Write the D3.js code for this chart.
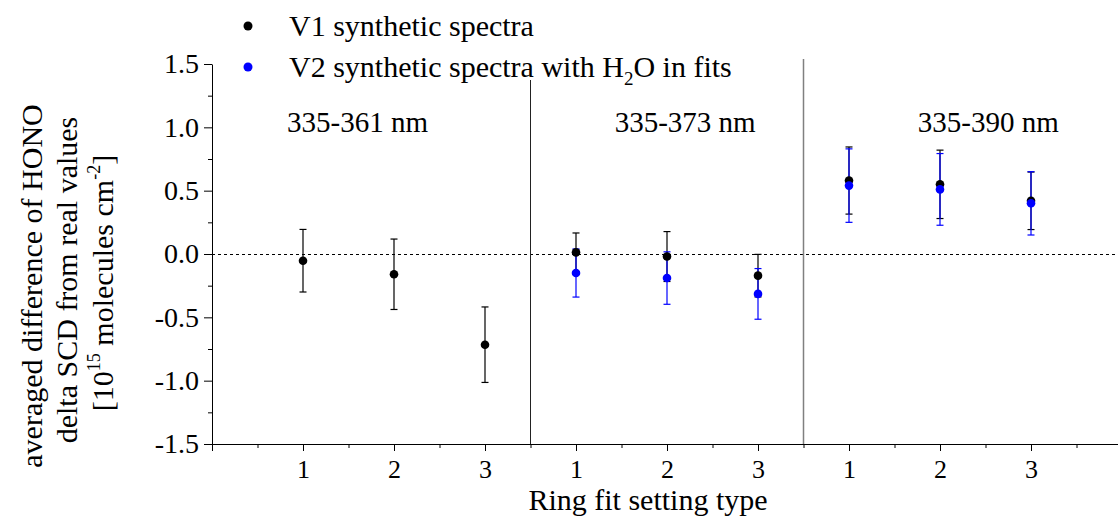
<!DOCTYPE html>
<html>
<head>
<meta charset="utf-8">
<script src="https://cdn.jsdelivr.net/npm/d3@7"></script>
<style>
  html, body { margin: 0; padding: 0; background: #fff; }
  svg { display: block; }
  svg text { font-family: "Liberation Serif", "Times New Roman", "DejaVu Serif", serif !important; fill: #000; }
</style>
</head>
<body>
<svg id="chart" width="1118" height="520"></svg>
<script>
// ---- data ----
const positions = [1, 2, 3, 4, 5, 6, 7, 8, 9];
const tickLabels = ["1", "2", "3", "1", "2", "3", "1", "2", "3"];
const v1Values = [-0.053, -0.16, -0.716, 0.013, -0.02, -0.171, 0.58, 0.55, 0.42];
const v1Errors = [0.247, 0.278, 0.298, 0.153, 0.197, 0.168, 0.265, 0.27, 0.227];
const v2Positions = [4, 5, 6, 7, 8, 9];
const v2Values = [-0.15, -0.19, -0.315, 0.54, 0.51, 0.40];
const v2Errors = [0.19, 0.207, 0.2, 0.29, 0.283, 0.25];
const regionNames = ["335-361 nm", "335-373 nm", "335-390 nm"];
const regionCenters = [1.6, 5.2, 8.53];
const dividers = [3.5, 6.5];
const yMajor = [-1.5, -1.0, -0.5, 0.0, 0.5, 1.0, 1.5];
const yMinor = [-1.25, -0.75, -0.25, 0.25, 0.75, 1.25];
const legendNames = ["V1 synthetic spectra", "V2 synthetic spectra with H2O in fits"];

const FONT = '"Liberation Serif", "Times New Roman", "DejaVu Serif", serif';
const svg = d3.select("#chart");
const x = d3.scaleLinear().domain([0, 10]).range([212, 1122]);
const y = d3.scaleLinear().domain([-1.5, 1.5]).range([444, 64]);
const BLACK = "#000000", BLUE = "#0000ff";

// zero dashed line
svg.append("line")
  .attr("x1", x(0)).attr("x2", 1118)
  .attr("y1", y(0) + 0.5).attr("y2", y(0) + 0.5)
  .attr("stroke", "#000").attr("stroke-width", 1)
  .attr("shape-rendering", "crispEdges")
  .attr("stroke-dasharray", "3,3");

// dividers
svg.selectAll("line.div").data(dividers).enter().append("line")
  .attr("class", "div")
  .attr("x1", d => x(d)).attr("x2", d => x(d))
  .attr("y1", y(1.54)).attr("y2", y(-1.5))
  .attr("stroke", (d, i) => i === 0 ? "#222" : "#808080")
  .attr("stroke-width", (d, i) => i === 0 ? 1 : 1.5);

// y axis
const fmt = d3.format(".1f");
const yAxis = svg.append("g").attr("transform", `translate(${x(0)},0)`)
  .call(d3.axisLeft(y).tickValues(yMajor).tickSize(8).tickSizeOuter(0).tickPadding(5)
    .tickFormat(d => fmt(d).replace("\u2212", "-")));
yAxis.attr("font-family", FONT);
yAxis.selectAll("text").attr("font-size", 28);
yAxis.selectAll("line, path").attr("stroke", "#000");
const yAxisMinor = svg.append("g").attr("transform", `translate(${x(0)},0)`)
  .call(d3.axisLeft(y).tickValues(yMinor).tickSize(4).tickSizeOuter(0).tickFormat(""));
yAxisMinor.select("path").remove();
yAxisMinor.selectAll("line").attr("stroke", "#000");

// x axis
const xMajor = d3.range(0, 10, 1);
const xMinor = d3.range(0.5, 10, 1);
const xAxis = svg.append("g").attr("transform", `translate(0,${y(-1.5)})`)
  .call(d3.axisBottom(x).tickValues(xMajor).tickSize(7).tickSizeOuter(0).tickPadding(9)
    .tickFormat(d => { const i = positions.indexOf(d); return i >= 0 ? tickLabels[i] : ""; }));
xAxis.attr("font-family", FONT);
xAxis.selectAll("text").attr("font-size", 26);
xAxis.selectAll("line, path").attr("stroke", "#000");
const xAxisMinor = svg.append("g").attr("transform", `translate(0,${y(-1.5)})`)
  .call(d3.axisBottom(x).tickValues(xMinor).tickSize(4).tickSizeOuter(0).tickFormat(""));
xAxisMinor.select("path").remove();
xAxisMinor.selectAll("line").attr("stroke", "#000");

// error bars
function errorBars(cls, xs, vals, errs, color) {
  const data = xs.map((p, i) => ({p, v: vals[i], e: errs[i]}));
  const g = svg.append("g").attr("class", cls);
  const cap = 3.5;
  data.forEach(d => {
    g.append("line").attr("x1", x(d.p)).attr("x2", x(d.p))
      .attr("y1", y(d.v + d.e)).attr("y2", y(d.v - d.e))
      .attr("stroke", color).attr("stroke-width", 1.2);
    [d.v + d.e, d.v - d.e].forEach(t => {
      g.append("line").attr("x1", x(d.p) - cap).attr("x2", x(d.p) + cap)
        .attr("y1", y(t)).attr("y2", y(t))
        .attr("stroke", color).attr("stroke-width", 1.2);
    });
  });
}
errorBars("eb1", positions, v1Values, v1Errors, BLACK);
errorBars("eb2", v2Positions, v2Values, v2Errors, BLUE);

svg.append("g").selectAll("circle").data(positions).enter().append("circle")
  .attr("cx", d => x(d)).attr("cy", (d, i) => y(v1Values[i])).attr("r", 4.3).attr("fill", BLACK);
svg.append("g").selectAll("circle").data(v2Positions).enter().append("circle")
  .attr("cx", d => x(d)).attr("cy", (d, i) => y(v2Values[i])).attr("r", 4.3).attr("fill", BLUE);

// region labels
svg.selectAll("text.region").data(regionNames).enter().append("text")
  .attr("class", "region")
  .attr("x", (d, i) => x(regionCenters[i])).attr("y", y(0.96))
  .attr("text-anchor", "middle").attr("font-size", 29).text(d => d);

// legend
const lg = svg.append("g");
lg.append("rect").attr("x", 234).attr("y", 0).attr("width", 510).attr("height", 80).attr("fill", "#fff");
const legendColors = [BLACK, BLUE];
const legendBase = [36, 77];
legendNames.forEach((name, i) => {
  lg.append("circle").attr("cx", 248).attr("cy", legendBase[i] - 10).attr("r", 4.5).attr("fill", legendColors[i]);
  const t = lg.append("text").attr("x", 289).attr("y", legendBase[i]).attr("font-size", 30);
  if (name.includes("H2O")) {
    const parts = name.split("H2O");
    t.append("tspan").text(parts[0] + "H");
    t.append("tspan").attr("font-size", 19).attr("dy", 8).text("2");
    t.append("tspan").attr("dy", -8).text("O" + parts[1]);
  } else {
    t.text(name);
  }
});

// axis titles
svg.append("text").attr("x", 648).attr("y", 510).attr("text-anchor", "middle")
  .attr("font-size", 30).text("Ring fit setting type");

const yl = svg.append("g").attr("transform", "rotate(-90)");
yl.append("text").attr("x", -286).attr("y", 42).attr("text-anchor", "middle").attr("font-size", 30)
  .text("averaged difference of HONO");
yl.append("text").attr("x", -280).attr("y", 77).attr("text-anchor", "middle").attr("font-size", 30)
  .text("delta SCD from real values");
const l3 = yl.append("text").attr("x", -283).attr("y", 113).attr("text-anchor", "middle").attr("font-size", 30);
l3.append("tspan").text("[10");
l3.append("tspan").attr("font-size", 18).attr("dy", -13).text("15");
l3.append("tspan").attr("dy", 13).text(" molecules cm");
l3.append("tspan").attr("font-size", 18).attr("dy", -13).text("-2");
l3.append("tspan").attr("dy", 13).text("]");
</script>
</body>
</html>
